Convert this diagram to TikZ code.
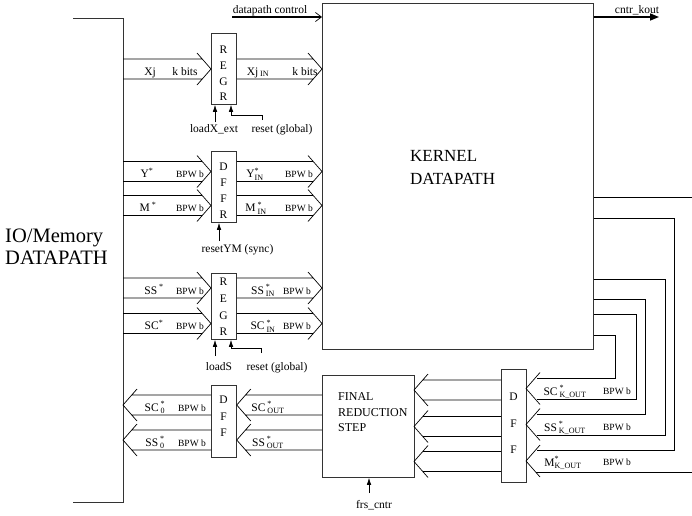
\documentclass[tikz,border=0pt]{standalone}
\usepackage{fontspec}
\setmainfont{Liberation Serif}
\usepackage{amsmath}
\usetikzlibrary{arrows.meta,calc}
\newcommand\SupSub[2]{\ensuremath{^{\text{#1}}_{\text{#2}}}}
\newcommand\Sup[1]{\ensuremath{^{\text{#1}}}}
\newcommand\Sub[1]{\ensuremath{_{\text{#1}}}}
\newcommand\bus[3]{%
  \draw[bus] let \p1=(#1), \p2=(#2) in
    (\x1,\y2+10pt) -- ({\x2-(#3)*8.75pt},\y2+10pt)
    (\x1,\y2-10pt) -- ({\x2-(#3)*8.75pt},\y2-10pt)
    ({\x2-(#3)*14pt},\y2+16pt) -- (\x2,\y2) -- ({\x2-(#3)*14pt},\y2-16pt);}
\newcommand\chev[1]{%
  \draw[bus] let \p2=(#1) in
    ({\x2+14pt},\y2+16pt) -- (\x2,\y2) -- ({\x2+14pt},\y2-16pt);}
\begin{document}
\begin{tikzpicture}[x=1pt,y=-1pt,
  bx/.style={draw=black!80, line width=0.75pt, inner sep=0pt, anchor=north west},
  bus/.style={line width=0.7pt},
  wire/.style={line width=0.7pt},
  lab/.style={font=\fontsize{11.5}{13}\selectfont, inner sep=0pt, anchor=base},
  bpw/.style={font=\fontsize{9.5}{11}\selectfont, inner sep=0pt, anchor=base},
  lett/.style={font=\fontsize{11.5}{13}\selectfont, inner sep=0pt},
  big/.style={inner sep=0pt, anchor=base west},
  sig/.style={line width=0.7pt, -{Latex[length=7pt,width=4.5pt]}}]
\useasboundingbox (0,0) rectangle (692,515);

% IO/Memory bracket
\coordinate (ioT) at (123,18);
\coordinate (ioB) at (123,502);
\draw[draw=black!80, line width=0.75pt] (73,18) -- (ioT) -- (ioB) -- (73,502);
\node[big, font=\fontsize{20.5}{22}\selectfont] (io1) at (5,242) {IO/Memory};
\node[big, font=\fontsize{20.5}{22}\selectfont] (io2) at (5,264) {DATAPATH};

% boxes
\node[bx, minimum width=271pt, minimum height=346pt] (kern) at (322,3) {};
\node[big, font=\fontsize{17}{20}\selectfont] (k1) at (410,161) {KERNEL};
\node[big, font=\fontsize{17}{20}\selectfont] (k2) at (410,184) {DATAPATH};
\node[bx, minimum width=25pt, minimum height=71pt] (regX) at (211,33) {};
\node[bx, minimum width=25pt, minimum height=71pt] (dffYM) at (211,151) {};
\node[bx, minimum width=25pt, minimum height=66pt] (regS) at (211,273) {};
\node[bx, minimum width=25pt, minimum height=72pt] (dffO) at (211,385) {};
\node[bx, minimum width=92pt, minimum height=102pt] (frs) at (322,375) {};
\node[bx, minimum width=25pt, minimum height=113pt] (dffK) at (501,369) {};

% letters in registers
\foreach \t/\y [count=\i] in {R/50,E/66,G/82,R/97}
  \node[lett] (ra\i) at (223.5,\y) {\t};
\foreach \t/\y [count=\i] in {D/167,F/183,F/199,R/215}
  \node[lett] (rb\i) at (223.5,\y) {\t};
\foreach \t/\y [count=\i] in {R/282,E/299,G/316,R/332}
  \node[lett] (rc\i) at (223.5,\y) {\t};
\foreach \t/\y [count=\i] in {D/400,F/417,F/433}
  \node[lett] (rd\i) at (223.5,\y) {\t};
\foreach \t/\y [count=\i] in {D/397,F/424,F/450}
  \node[lett] (re\i) at (513.5,\y) {\t};

\node[big, font=\fontsize{12}{14}\selectfont] (f1) at (338,400) {FINAL};
\node[big, font=\fontsize{12}{14}\selectfont] (f2) at (338,416) {REDUCTION};
\node[big, font=\fontsize{12}{14}\selectfont] (f3) at (338,431) {STEP};

% bus tips
\coordinate (tXj) at (211,69);
\coordinate (tY) at (211,171.5);
\coordinate (tM) at (211,205.5);
\coordinate (tSS) at (211,288);
\coordinate (tSC) at (211,323.5);
\coordinate (tSC0) at (123,405);
\coordinate (tSS0) at (123,440);
\coordinate (tF1) at (414,390);
\coordinate (tF2) at (414,426.5);
\coordinate (tF3) at (414,461.5);
\coordinate (tK1) at (526,388.5);
\coordinate (tK2) at (526,424.5);
\coordinate (tK3) at (526,461);

% left-to-right buses
\bus{ioT|-tXj}{tXj}{1}
\bus{regX.east|-tXj}{kern.west|-tXj}{1}
\bus{ioT|-tY}{tY}{1}
\bus{dffYM.east|-tY}{kern.west|-tY}{1}
\bus{ioT|-tM}{tM}{1}
\bus{dffYM.east|-tM}{kern.west|-tM}{1}
\bus{ioT|-tSS}{tSS}{1}
\bus{regS.east|-tSS}{kern.west|-tSS}{1}
\bus{ioT|-tSC}{tSC}{1}
\bus{regS.east|-tSC}{kern.west|-tSC}{1}
% right-to-left buses
\bus{dffO.west|-tSC0}{tSC0}{-1}
\bus{dffO.west|-tSS0}{tSS0}{-1}
\bus{frs.west|-tSC0}{dffO.east|-tSC0}{-1}
\bus{frs.west|-tSS0}{dffO.east|-tSS0}{-1}
\bus{dffK.west|-tF1}{tF1}{-1}
\bus{dffK.west|-tF2}{tF2}{-1}
\bus{dffK.west|-tF3}{tF3}{-1}
\chev{tK1}
\chev{tK2}
\chev{tK3}

% routed wires from kernel to DFF
\draw[wire] (kern.south east) ++(0,-14) -| ++(22,43) -- ++(-79,0);
\draw[wire] (kern.south east) ++(0,-35) -| ++(43,85) -- ++(-100,0);
\draw[wire] (kern.south east) ++(0,-50) -| ++(52,115) -- ++(-109,0);
\draw[wire] (kern.south east) ++(0,-70) -| ++(72,156) -- ++(-129,0);
\draw[wire] (kern.south east) ++(0,-131) -| ++(81,232) -- ++(-138,0);
\coordinate (mIn) at (692,472);
\draw[wire] (mIn) -- (536,472);
\coordinate (kOut) at (692,197);
\draw[wire] (kern.east |- kOut) -- (kOut);

% control arrows top
\coordinate (dpc) at (232,17);
\draw[line width=1.5pt, -{Straight Barb[length=6pt,width=9pt,line width=0.7pt]}] (dpc) -- (kern.west |- dpc);
\node[lab] (ldpc) at (270,13) {datapath control};
\coordinate (ck) at (659,17);
\draw[line width=1.5pt, -{Triangle[length=9pt,width=7pt]}] (kern.east |- ck) -- (ck);
\node[lab] (lck) at (637,13) {cntr\_kout};

% control signals
\coordinate (cLX) at (215,122);
\draw[sig] (cLX) -- (regX.south -| cLX);
\coordinate (cRX) at (262,120);
\draw[sig] (cRX) -- (262,115) -- (231,115) -- (regX.south -| 231,0);
\node[lab] (lLX) at (214,132) {loadX\_ext};
\node[lab] (lRX) at (282,132) {reset (global)};

\coordinate (cYM) at (219,241);
\draw[sig] (cYM) -- (dffYM.south -| cYM);
\node[lab] (lYM) at (237.5,252) {resetYM (sync)};

\coordinate (cLS) at (215,356);
\draw[sig] (cLS) -- (regS.south -| cLS);
\coordinate (cRS) at (261,353);
\draw[sig] (cRS) -- (261,348) -- (231,348) -- (regS.south -| 231,0);
\node[lab] (lLS) at (219,370) {loadS};
\node[lab] (lRS) at (277,370) {reset (global)};

\coordinate (cFR) at (369,493);
\draw[sig] (cFR) -- (frs.south -| cFR);
\node[lab] (lFR) at (374,508) {frs\_cntr};

% bus labels
\node[lab] (a1) at (150,75) {Xj};
\node[lab] (a2) at (185,75) {k bits};
\node[lab] (a3) at (258,75) {Xj\,\Sub{IN}};
\node[lab] (a4) at (305,75) {k bits};

\node[lab] (b1) at (147,177.5) {Y\Sup{*}};
\node[bpw] (b2) at (190,177.5) {BPW b};
\node[lab] (b3) at (255,177.5) {Y\SupSub{*}{IN}};
\node[bpw] (b4) at (299,177.5) {BPW b};

\node[lab] (c1) at (148,211.5) {M\,\Sup{*}};
\node[bpw] (c2) at (190,211.5) {BPW b};
\node[lab] (c3) at (256,211.5) {M\,\SupSub{*}{IN}};
\node[bpw] (c4) at (299,211.5) {BPW b};

\node[lab] (d1) at (154,294) {SS\,\Sup{*}};
\node[bpw] (d2) at (190,294) {BPW b};
\node[lab] (d3) at (263,294) {SS\,\SupSub{*}{IN}};
\node[bpw] (d4) at (297,294) {BPW b};

\node[lab] (e1) at (154,329.5) {SC\Sup{*}};
\node[bpw] (e2) at (190,329.5) {BPW b};
\node[lab] (e3) at (263,329.5) {SC\,\SupSub{*}{IN}};
\node[bpw] (e4) at (297,329.5) {BPW b};

\node[lab] (g1) at (155,411) {SC\,\SupSub{*}{0}};
\node[bpw] (g2) at (192,411) {BPW b};
\node[lab] (g3) at (268,411) {SC\,\SupSub{*}{OUT}};
\node[lab] (h1) at (155,446) {SS\,\SupSub{*}{0}};
\node[bpw] (h2) at (192,446) {BPW b};
\node[lab] (h3) at (268,446) {SS\,\SupSub{*}{OUT}};

\node[lab] (m1) at (565,395) {SC\,\SupSub{*}{K\_OUT}};
\node[bpw] (m2) at (617,394) {BPW b};
\node[lab] (n1) at (565,431) {SS\,\SupSub{*}{K\_OUT}};
\node[bpw] (n2) at (617,430) {BPW b};
\node[lab] (o1) at (563,466) {M\SupSub{*}{K\_OUT}};
\node[bpw] (o2) at (617,465) {BPW b};
\end{tikzpicture}
\end{document}
